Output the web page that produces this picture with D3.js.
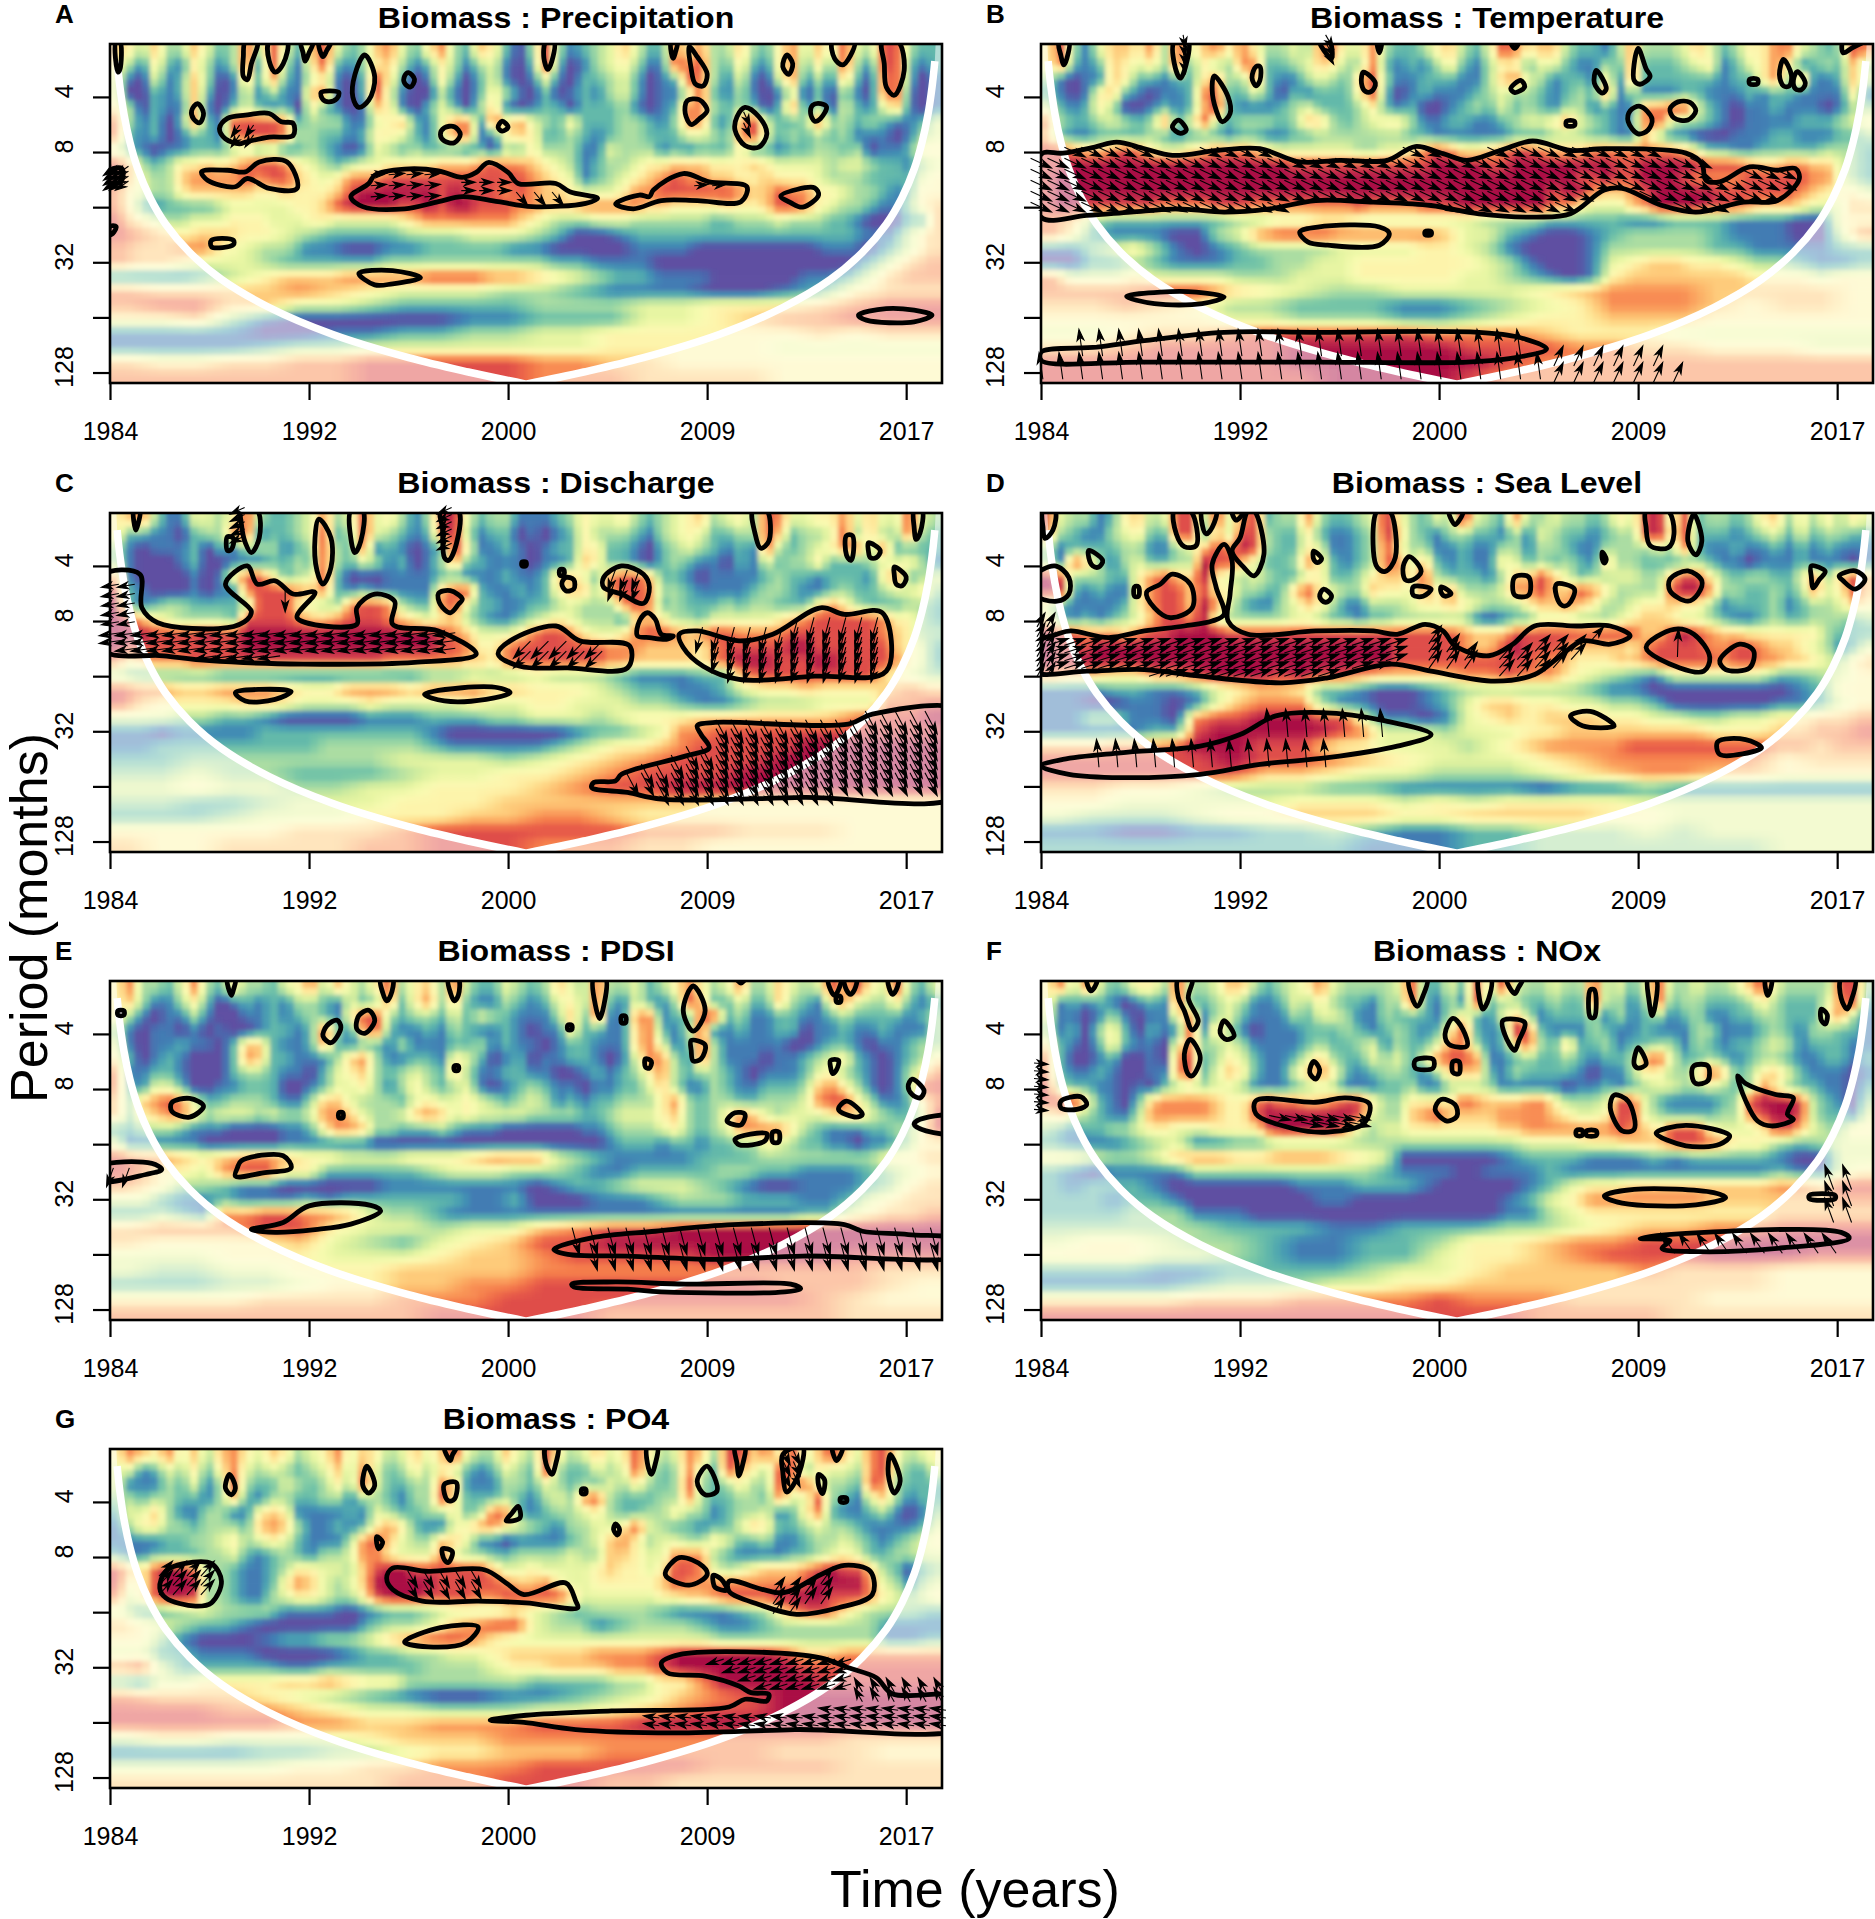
<!DOCTYPE html>
<html>
<head>
<meta charset="utf-8">
<script src="https://cdnjs.cloudflare.com/ajax/libs/d3/7.8.5/d3.min.js"></script>
<style>
body { margin: 0; background: #fff; }
text { font-family: "Liberation Sans", Arimo, Helvetica, sans-serif; fill: #000; }
</style>
</head>
<body>
<svg id="vis"></svg>
<script>
// x values are months since Jan 1984, y values are log2(period in months)
const xTicks = [0, 100, 200, 300, 400];
const xLabels = ["1984", "1992", "2000", "2009", "2017"];
const periodTicks = [4, 8, 16, 32, 64, 128];
const periodLabels = ["4", "8", "", "32", "", "128"];

// cone of influence: [months from the edge, log2 period]
const coi = [[3.6,1.35],[5,1.82],[7,2.31],[10,2.82],[14,3.31],[20,3.82],[28,4.31],[40,4.82],[56,5.31],[80,5.82],[112,6.31],[150,6.73],[180,6.99],[209,7.21]];

// coherence, 0 (purple) to 9 (dark red), one string per period band, top down
const heatA = [
"65363364 23838426 84236742 57326520 38312346 42275733 63257364 84388322",
"53152153 13818315 82135631 25313410 28201345 31187832 52157252 83188212",
"41041263 01627214 51028520 15202410 14102234 20128731 41047131 62078201",
"40021262 01413116 71028410 03102531 02012134 20114821 31014020 31078101",
"53021161 02421205 21016510 24203610 12202223 10127732 32027130 42146101",
"73120272 18888723 33114562 14771857 43252223 32137721 78422373 32321124",
"72120122 17888733 22125542 14771156 52232123 32224432 78423232 31110134",
"42101122 23423123 21014323 22212032 53331143 33121222 52212233 23011255",
"86323556 56788754 32344555 56667877 65431233 45566655 56544443 44322134",
"86433677 77878865 45777888 88888888 76541234 56787766 55655543 33222245",
"75433566 66655655 56899999 98988878 76654445 77888888 76687755 43321255",
"75212222 34444455 68999988 98998887 76667777 76655556 55688754 33211356",
"86543344 45554445 54444456 77777776 54333444 33333322 33343332 21000226",
"87656 65543 22223 33444 32001 22222 22222 21146",
"76677 54331 10011 22221 10000 11100 00001 10246",
"76654 44322 22233 33333 32211 10000 00000 02467",
"11112 34566 67777 88877 65432 21110 00011 24677",
"766 667 654 443 321 110 012 566",
"788 664 432 222 333 445 556 788",
"556 310 000 011 222 445 677 888",
"111 100 112 233 445 555 556 566",
"111 123 344 444 445 555 544 444",
"655 667 788 888 776 655 555 555",
"777 777 788 888 777 666 655 555"];
const heatB = [
"58314665 73846757 53343774 47322356 32487566 32213733 34642355 77432387",
"57212654 53825337 72234653 37212135 21355244 21132722 23451245 75123263",
"31011652 21225733 72113432 68311222 11367431 22151722 22221225 73711264",
"21015621 01127822 42021222 58201211 12343321 23271311 12211121 22111151",
"42125300 12126921 11234222 35212001 23242321 33121177 88421011 21110133",
"73223432 37248323 33236632 34553112 21123445 74321278 43321011 11222345",
"62112222 32122212 21122333 33332211 11112223 33221163 11000111 22111223",
"88766787 54456777 65444444 33445787 55678876 66777777 76422112 22223332",
"88999999 99999999 99988888 88888899 99889999 99998899 99988876 67766432",
"89999999 99999999 99999999 99999999 99999999 98898899 98777788 88877432",
"89999999 99999999 99999999 99999999 99999998 99766789 99998888 88765554",
"89988888 87777888 77777777 87777888 99999997 75444679 99988876 66544466",
"76322 22223 34455 44444 43332 22211 22211 10055",
"75211 10034 78887 77776 44210 01233 33211 10047",
"11345 31012 33334 44455 43100 01333 33221 11122",
"00223 21112 23344 55555 54310 01456 65543 32112",
"74445 44443 33444 55555 44321 01566 66665 55455",
"777 886 543 344 445 677 766 665",
"667 653 322 211 234 577 765 665",
"555 554 433 322 345 566 655 555",
"445 667 888 887 776 555 444 444",
"667 888 899 999 888 776 655 544",
"888 888 899 999 987 777 777 777",
"888 888 889 999 877 777 777 777"];
const heatC = [
"56731144 35832234 73484531 38942331 11235445 32345634 53874455 74644843",
"52211023 37812234 82384321 27931220 10125333 21345422 33862334 83633832",
"31011120 21333123 83271210 12951121 01225522 10234321 21832345 77372222",
"31000120 01112232 83243120 13722111 01126522 10232110 21423352 22344531",
"61000010 15885234 82000111 12211121 12664278 86221011 11232212 22157234",
"82100010 11788876 72121111 16882112 12566378 87332111 12332112 32234453",
"92123322 22388854 33788732 27842211 22343337 87232223 23322257 53222332",
"98654333 32888876 67888765 45632112 34543331 66533244 44456788 88875532",
"99988889 88999999 99999999 98764445 78875445 78876788 77778888 88876533",
"98888888 88999999 99999999 98875578 88888877 76666578 88889988 88886542",
"75677788 88888888 88888777 77766578 88888877 66666578 99988899 88887542",
"32222 11111 11111 22333 43332 11122 78888 88543",
"87766 77765 57776 77766 55543 22112 45565 55676",
"86555 56654 44544 44544 55444 33211 23334 44778",
"44433 22100 00111 22233 44434 55566 66666 78889",
"11011 11222 22222 10000 00122 34778 88888 88888",
"11222 22222 33333 21111 12345 56788 88899 99999",
"223 333 334 443 456 788 899 999",
"334 332 223 445 567 888 999 999",
"445 443 344 555 678 899 999 999",
"332 234 445 556 666 665 555 555",
"222 344 455 566 776 555 555 555",
"555 556 667 888 888 777 666 555",
"655 666 677 888 777 665 555 555"];
const heatD = [
"84331256 34883847 82337322 34953243 94327334 33235489 48233235 63535354",
"73211345 22882648 83225211 23963213 32213143 22123389 58222123 42423322",
"31222233 11346879 83225411 23853311 21133133 21133334 37211211 21212111",
"31863134 22339886 42237521 23874621 21154232 32163322 22321101 11211101",
"98333225 78669543 43224522 35665832 22136686 42334433 68853233 22473686",
"99212115 78868553 32268543 36554757 33347786 68753333 89973322 32374586",
"42111125 78869742 11346531 13334556 54333566 76533455 65531222 31233465",
"52121234 68879433 33344322 12233333 31012244 43334566 54432112 32233323",
"98877767 88999988 88888888 88888888 76668888 88888866 89876655 55553222",
"98889999 99999999 99999999 99988888 76689888 76666578 88877887 66543124",
"98999999 99999999 99999999 99988888 88888877 65556678 88887887 76654356",
"76655 77899 98988 76666 77877 54321 44444 22345",
"11122 11245 66522 10012 33333 32110 00000 01255",
"11001 10146 77731 10012 46655 44332 00000 11245",
"11331 10788 99988 41101 45656 66554 43344 55667",
"11111 22899 99998 74443 44455 66666 66555 66778",
"66677 78999 88865 54444 34567 77788 88888 77677",
"888 889 887 654 445 677 777 566",
"888 888 665 443 334 567 766 555",
"665 543 332 211 110 112 111 111",
"554 444 455 545 455 554 444 444",
"433 345 566 655 666 655 444 444",
"110 011 223 211 223 334 344 444",
"222 222 222 111 223 333 333 444"];
const heatE = [
"57332473 25332457 36435835 63832243 23643833 42357534 73364348 68548324",
"56311352 01212133 21423725 73621132 12453821 42138622 42263215 74335212",
"53101131 00112123 21588323 32424321 11362811 77122882 31122112 32222123",
"31011010 10012212 83178211 21321121 01152211 67213811 21122011 21121113",
"41011211 02662112 72122131 11223121 10122111 67412831 11110012 21011233",
"52012100 02762211 13673112 21542012 01122101 47731831 11011234 52101235",
"71122100 02332110 24563234 32631122 11001212 35732332 10111245 32101357",
"72144200 11222001 24453135 32341012 32110112 24631132 11222367 53101388",
"63678742 23332113 66433324 54454323 43121223 33573233 22333478 85311257",
"63567753 44434334 77643346 76454444 33332234 44563235 76434445 66432248",
"22333211 10000112 57763322 23211100 00001123 33453234 77775321 11223358",
"41111110 00000111 11110000 00000000 00000012 22122122 33543221 10112355",
"87765 67765 54445 55677 74321 11122 23333 33556",
"87554 78855 22222 34443 33211 22223 32211 12345",
"76533 21100 00011 11111 01223 44432 10011 12356",
"44211 21112 12222 22112 00011 12333 22211 24566",
"22321 77887 76433 21111 11111 11111 11122 45667",
"677 788 544 344 678 899 999 999",
"655 556 432 456 889 999 999 999",
"444 555 444 566 788 889 999 888",
"433 445 556 666 777 777 777 766",
"222 334 556 677 888 888 877 765",
"555 566 667 778 888 888 887 655",
"777 777 777 888 887 777 777 666"];
const heatF = [
"57374235 53833466 32345743 33348224 28384334 33834248 33433468 43333883",
"51212101 21822343 11243532 21338213 18233223 22833138 23322235 32224782",
"41101310 11571342 11132443 11322213 52146312 22313123 12311223 32225731",
"31203520 21181631 01112223 21232125 82129821 11321121 11331112 32133221",
"52102521 10573343 11112322 34132247 73125832 62231223 31321223 43122211",
"72001200 10782354 21124632 24342478 87112322 32122378 42232123 32112212",
"72112100 11782465 21146752 12332136 66213222 21011355 33586235 64211101",
"83221101 02343443 11123431 11223113 33311111 01121234 43343237 53221102",
"88952102 67777655 78776678 85335555 87666775 33348842 11112389 99832103",
"56432113 77777655 89999999 84336786 66677776 54458843 22223378 99832214",
"32122334 55444555 58999997 43445555 55566777 77778765 88854445 88643355",
"21112 34112 23333 33333 33344 45566 88755 32344",
"55433 46776 67776 54000 00122 21112 12222 10044",
"21011 11333 33333 32111 01112 11111 11111 21145",
"21222 10000 00111 22210 00012 45566 66666 77688",
"22212 21000 00011 00000 00124 57777 77666 66677",
"22223 33111 00000 00000 00113 45555 55555 66666",
"333 332 221 122 233 456 677 888",
"455 433 211 223 556 778 889 999",
"555 443 211 224 556 788 899 988",
"222 112 222 344 566 667 666 555",
"111 123 334 455 666 666 666 555",
"555 566 677 778 777 666 655 555",
"888 888 888 888 887 777 666 666"];
const heatG = [
"57657463 67546534 57465346 46843364 38534645 85347638 86758468 64785345",
"44124352 57434323 46374235 35421243 28322434 84237428 65388254 43784224",
"41113241 38322432 35384223 37611133 24323243 53238323 53386843 32873222",
"33233221 36213322 33133213 38522232 13437832 22337322 33274483 21463122",
"24463113 31156511 11214322 33523872 12334532 23353312 33412572 11231013",
"13553323 33267631 12125752 11457754 32133445 84322122 46522343 32111124",
"11112233 45345421 11378643 36641101 11123467 53443354 22311233 43212345",
"21122223 34212321 33477544 47433223 33343366 54477732 11112234 54223344",
"86589973 32112355 44368998 88888644 54444565 54588743 45666789 88632023",
"85589993 32112576 43469999 98888876 67544555 55687777 77777899 99743134",
"74589983 32113455 43358999 88887788 88864444 44556678 88899998 88754345",
"42234 33311 10122 34445 43233 32111 23688 53332",
"65432 21000 00233 46788 43312 33321 12333 33111",
"55310 00122 33467 88754 44444 44443 33333 33112",
"44221 11000 01223 34456 66677 78999 99866 77777",
"78422 22211 22222 33345 56667 78999 99988 88888",
"21445 55566 76553 33333 22223 35579 99998 88888",
"766 654 321 001 123 467 899 999",
"888 776 544 333 445 678 899 999",
"888 887 766 777 888 999 999 999",
"455 444 456 667 777 777 777 666",
"111 122 334 556 667 777 766 655",
"444 445 566 777 888 887 777 666",
"666 666 667 778 887 766 666 666"];

// significance contours, flat lists month,log2period,month,log2period...
const bandB = [0,3.04,11,3.02,27,2.91,38,2.82,52,2.94,66,3.06,89,2.97,110,2.94,130,3.18,150,3.15,174,3.15,188,2.9,202,3.03,214,3.15,231,2.97,247,2.8,266,2.97,283,2.94,324,3.02,332,3.21,334,3.51,341,3.54,356,3.27,370,3.33,379,3.3,381,3.48,370,3.88,353,3.91,329,4.09,312,3.97,292,3.66,283,3.69,266,4.12,249,4.18,220,4.12,196,3.97,167,3.91,138,3.88,115,4.03,92,4.09,69,4.03,45,4.09,23,4.15,0,4.18];
const contoursA = [
[3,1,5,1,5,1.5,4,1.55],[68,1,74,1,71,1.4,69,1.69,67,1.63,67,1.27],[80,1,89,1,87,1.4,83,1.55,80,1.35],[96,1,102,1,100,1.2,98,1.35,97,1.2],[105,1,111,1,109,1.15,107,1.27],
[128,1.24,133,1.64,130,2.06,125,2.19,122,2,123,1.6],[150,1.56,153,1.68,151,1.82,148,1.75,148,1.62],[106,1.92,115,1.92,114,2.03,110,2.09,107,2.05],[44,2.12,47,2.3,45,2.47,42,2.4,41,2.25],
[59,2.39,68,2.33,80,2.3,86,2.45,92,2.48,92,2.7,80,2.73,68,2.82,65,2.85,58,2.76,55,2.57],[168,2.56,173,2.54,176,2.68,173,2.83,168,2.8,166,2.68],[197,2.44,200,2.55,197,2.62,195,2.55],
[290,2.07,296,2.05,300,2.25,296,2.4,292,2.5,289,2.3],[319,2.19,326,2.36,330,2.67,326,2.91,319,2.88,314,2.6,315,2.36],[357,2.12,360,2.18,357,2.39,354,2.44,352,2.3,353,2.15],
[282,1,285,1,284,1.2,283,1.3,282,1.2],[291,1.09,295,1.27,300,1.58,298,1.8,294,1.76,292,1.49],[340,1.24,343,1.4,341,1.59,338,1.45],[363,1,374,1,372,1.25,368,1.42,364,1.3],
[388,1,396,1,399,1.52,394,1.97,390,1.82,389,1.4],[219,1,223,1,222,1.35,220,1.5,218,1.3],
[121,3.81,130,3.57,133,3.42,148,3.31,165,3.34,177,3.46,184,3.37,190,3.19,200,3.37,205,3.57,224,3.57,231,3.72,245,3.84,239,3.93,212,3.99,195,3.9,177,3.81,165,3.9,148,4.03,127,3.99],
[46,3.36,59,3.33,68,3.36,75,3.18,89,3.18,94,3.66,80,3.66,69,3.48,63,3.63,49,3.51],
[254,3.94,266,3.78,271,3.81,273,3.69,288,3.39,301,3.54,320,3.63,317,3.9,295,3.88,277,3.88,263,4.03],
[337,3.8,345,3.68,354,3.65,356,3.78,348,4,342,3.92],[0,3.33,6,3.3,6,3.5,0,3.6],[0,4.35,3,4.35,2,4.45,0,4.5],[51,4.6,62,4.6,62,4.68,51,4.72],
[125,5.2,142,5.15,156,5.28,142,5.39,133,5.41],[376,5.96,390,5.84,404,5.87,413,5.96,404,6.08,380,6.05]];
const contoursB = [bandB,
[9,1,14,1,13,1.3,11.5,1.42,10,1.25],[67,1,74,1,73,1.4,70,1.66,67,1.4],[140,1,145,1,146,1.3,142,1.15],[169,1,171,1,170,1.2],[236,1,240,1,238,1.12],[108,1.45,110,1.45,110,1.7,108,1.8,106,1.65],
[162,1.55,168,1.75,166,1.9,163,1.9,161,1.75],[87,1.62,94,2,95,2.3,91,2.45,88,2.24,86,1.88],[69,2.42,73,2.6,70,2.66,66,2.55],[241,1.7,243,1.82,238,1.92,236,1.85],[279,1.52,284,1.85,282,1.93,278,1.75],
[300,1.12,304,1.49,306,1.63,301,1.77,298,1.7,298,1.4],[356,1.68,360,1.68,360,1.76,356,1.76],[373,1.32,377,1.6,376,1.8,373,1.8,371,1.6],[380,1.54,384,1.75,382,1.87,379,1.85,378,1.7],[403,1,413,1,408,1.1,403,1.2],
[301,2.17,307,2.4,305,2.6,300,2.67,295,2.45,296,2.25],[320,2.09,326,2.1,329,2.25,325,2.42,318,2.38,316,2.22],[264,2.44,268,2.44,268,2.52,264,2.52],
[130,4.45,139,4.36,170,4.36,175,4.48,170,4.69,144,4.69,134,4.63],[193,4.44,196,4.44,196,4.5,193,4.5],[43,5.62,60,5.54,78,5.54,92,5.63,81,5.75,57,5.75],
[0,6.63,28,6.54,52,6.42,92,6.27,138,6.27,220,6.27,240,6.36,254,6.57,240,6.72,214,6.81,138,6.81,52,6.81,0,6.78]];
const contoursC = [
[12,1,15,1,14,1.25,13,1.35,12,1.2],[66,1,74,1,75,1.49,71,1.76,68,1.58,66,1.24],[59,1.47,62,1.5,61,1.7,59,1.72],[105,1.15,111,1.49,111,2.03,107,2.33,104,2.09,103,1.49],[121,1,127,1,126,1.55,123,1.76,121,1.5],
[166,1,175,1,174,1.6,170,1.9,168,1.85,167,1.3],[323,1,330,1,331,1.55,327,1.68,324,1.4],[404,1,408,1,407,1.4,405,1.52,404,1.3],[370,1.45,373,1.45,373,1.85,372,1.9,370,1.8],[381,1.58,387,1.72,385,1.85,382,1.85,381,1.72],
[394,2.02,400,2.2,398,2.36,395,2.33,394,2.15],[207,1.93,209,1.93,209,2,207,2],[226,2.07,228,2.07,228,2.17,226,2.17],[229,2.21,233,2.25,233,2.42,229,2.45,227,2.32],[248,2.21,257,2,268,2.15,271,2.39,268,2.68,257,2.51,248,2.39],[171,2.45,177,2.6,175,2.7,171,2.85,166,2.7,165,2.5],
[-4,2.18,15,2.15,16,2.76,24,3.03,59,3.12,69,2.97,71,2.82,58,2.33,69,2,74,2.33,83,2.27,92,2.51,103,2.48,94,2.94,124,3.06,124,2.76,133,2.51,143,2.64,142,3.06,165,3.18,184,3.6,153,3.75,97,3.78,50,3.72,27,3.63,-4,3.51],
[195,3.6,201,3.36,224,3.09,236,3.36,261,3.45,260,3.85,230,3.85,206,3.82],[270,2.85,274,2.97,277,3.24,283,3.27,280,3.33,271,3.3,265,3.27,266,3],
[286,3.24,295,3.18,316,3.36,333,3.24,357,2.76,369,2.88,388,2.85,390,3.91,354,4,316,4.06,298,3.82,288,3.48],
[63,4.3,75,4.24,91,4.28,83,4.42,68,4.45],[158,4.33,177,4.21,195,4.21,201,4.3,189,4.42,168,4.45],
[295,4.9,304,4.84,371,4.87,383,4.69,430,4.66,430,6.11,348,6.2,277,6.23,260,6.11,242,6.02,243,5.93,254,5.9,257,5.78,289,5.45,301,5.3,297,5.06]];
const contoursD = [
[1,1,7,1,6,1.35,2,1.5,1,1.3],[67,1,75,1,78,1.63,72,1.65,68,1.42],[81,1,88,1,86,1.3,83,1.42,81,1.25],[96,1,102,1,100,1.12,98,1.17],[104,1,107,1,112,1.79,107,2.18,102,2.03,96,1.73,100,1.49],
[24,1.72,31,1.9,29,2.02,26,2,24,1.85],[169,1,175,1,178,1.85,173,2.1,169,2.03,167,1.73],[185,1.83,191,2.1,187,2.25,183,2.25,182,2],[205,1,212,1,210,1.18,208,1.25],[137,1.73,141,1.87,139,1.94,137,1.88],[282,1.75,284,1.88,283,1.95,282,1.88],
[304,1,315,1,318,1.42,315,1.67,306,1.63,304,1.3],[328,1.06,332,1.55,329,1.8,325,1.55],[-4,2.21,7,2,14,2.21,14,2.51,8,2.64,-4,2.51],[66,2.15,75,2.33,76,2.76,65,2.94,57,2.76,53,2.48,60,2.33],[47,2.38,49,2.38,49,2.55,47,2.55],
[142,2.42,146,2.55,144,2.65,142,2.65,140,2.55],[187,2.38,196,2.42,192,2.55,187,2.53],[201,2.38,206,2.5,203,2.55,201,2.48],[238,2.2,245,2.2,245,2.53,238,2.53],[259,2.33,268,2.42,265,2.7,262,2.72,259,2.55],[325,2.09,332,2.27,330,2.51,325,2.64,316,2.45,316,2.24],
[387,2,394,2.1,391,2.25,388,2.4,387,2.2],[401,2.18,409,2.09,414,2.24,409,2.42,403,2.27],
[-4,3.42,8,3.24,15,3.18,34,3.3,52,3.18,72,3.09,86,3,92,2.88,88,2.39,86,1.97,92,1.61,96,1.91,95,2.51,94,3,104,3.24,138,3.18,167,3.18,179,3.24,193,3.06,202,3.18,208,3.45,225,3.63,237,3.42,248,3.09,269,3.09,286,3.09,296,3.27,286,3.42,272,3.36,260,3.66,248,3.97,228,4.09,196,3.91,176,3.78,144,4.03,121,4.12,80,4,52,3.88,23,3.91,-4,3.91],
[318,3.15,328,3.24,336,3.66,333,3.91,321,3.85,304,3.48],[351,3.42,358,3.54,356,3.85,344,3.88,341,3.72],
[0,5.63,11,5.51,40,5.39,80,5.27,100,5.06,118,4.72,141,4.66,173,4.81,196,5.06,179,5.27,144,5.48,110,5.6,80,5.78,40,5.84,14,5.78],
[266,4.72,276,4.64,288,4.9,272,4.9],[340,5.19,354,5.15,362,5.3,341,5.42]];
const contoursE = [
[4,1.58,7,1.58,7,1.66,4,1.66],[59,1,63,1,62,1.2,61,1.3],[136,1,142,1,141,1.3,139,1.4,137,1.25],[170,1,175,1,175,1.3,173,1.4,171,1.25],[243,1,249,1,248,1.5,246,1.72,244,1.5],[293,1.13,299,1.58,293,1.95,288,1.58],[257,1.68,259,1.68,259,1.8,257,1.8],[230,1.84,232,1.84,232,1.92,230,1.92],[315,1,319,1,317,1.08],
[361,1,367,1,366,1.2,364,1.3,362,1.2],[369,1,375,1,374,1.2,372,1.28,370,1.2],[391,1,396,1,395,1.2,393,1.28],[365,1.32,367,1.32,367,1.42,365,1.42],[130,1.57,133,1.76,128,1.99,124,1.91,125,1.67],[114,1.75,116,1.88,111,2.16,107,2.04,109,1.85],[292,2.12,299,2.2,297,2.45,293,2.49,292,2.3],
[269,2.45,272,2.5,271,2.62,269,2.6],[173,2.58,175,2.58,175,2.66,173,2.66],[362,2.48,366,2.48,365,2.65,363,2.72,362,2.6],[403,2.82,409,3.03,407,3.16,403,3.1,401,2.95],[31,3.25,40,3.17,47,3.31,40,3.51,31,3.4],[115,3.43,117,3.43,117,3.52,115,3.52],[370,3.22,378,3.46,375,3.51,366,3.37],
[314,3.43,319,3.46,317,3.65,310,3.58],[314,3.91,330,3.81,329,3.94,316,4.01],[333,3.78,336,3.78,336,3.96,333,3.96],[430,3.5,407,3.55,404,3.64,410,3.76,430,3.79],[-5,4.41,21,4.35,26,4.46,18,4.55,-5,4.66],[66,4.3,87,4.21,91,4.43,77,4.52,63,4.58,64,4.43],[71,5.55,87,5.42,100,5.12,131,5.11,136,5.21,121,5.45,103,5.55,83,5.6],
[223,5.91,242,5.7,274,5.58,313,5.46,369,5.46,378,5.58,401,5.64,430,5.76,430,6,348,6.03,304,6.09,260,6.03,230,6],[232,6.54,254,6.5,289,6.54,342,6.54,347,6.62,339,6.68,277,6.68,260,6.63,233,6.59]];
const contoursF = [
[23,1,28,1,27,1.15,25,1.22],[69,1,76,1,74,1.35,79,1.77,76,1.93,72,1.58,69,1.34],[75,2.1,80,2.43,76,2.76,74,2.73,72,2.37],[92,1.76,97,2.04,93,2.1,90,1.98],[137,2.5,140,2.65,138,2.82,135,2.7],[185,1,194,1,192,1.3,189,1.5,186,1.3],[220,1,226,1,225,1.35,222,1.55,220,1.3],[234,1,242,1,240,1.15,238,1.27],
[207,1.72,212,1.92,214,2.22,205,2.19,203,2],[232,1.76,243,1.79,240,2.13,238,2.3,233,2.01],[188,2.48,197,2.46,197,2.62,188,2.62],[207,2.5,210,2.5,210,2.72,207,2.7],[276,1.2,278,1.2,278,1.7,276,1.7],[305,1,309,1,308.5,1.5,307,1.67,305.5,1.4],[364,1,367,1,366,1.25,365,1.3],[402,1,409,1,407,1.4,405,1.55,402,1.35],[392,1.55,395,1.65,394,1.82,392,1.75],
[300,2.25,304,2.55,300,2.62,298,2.55],[328,2.58,335,2.58,335,2.85,329,2.9,327,2.75],[350,2.76,354,2.9,369,3.1,378,3.16,375,3.46,378,3.55,367,3.67,360,3.58,354,3.21],[288,3.11,295,3.22,298,3.73,292,3.76,286,3.34],[201,3.19,208,3.28,209,3.49,204,3.58,198,3.37],[10,3.22,20,3.14,23,3.28,18,3.37,10,3.34],
[108,3.21,138,3.24,153,3.16,165,3.27,162,3.63,144,3.78,127,3.72,108,3.45],[269,3.75,272,3.75,272,3.84,269,3.84],[274,3.76,279,3.76,279,3.84,274,3.84],[309,3.8,324,3.66,346,3.85,341,4,324,4.03],[283,4.94,298,4.82,338,4.88,344,4.97,329,5.1,292,5.07],[386,4.93,399,4.93,399,4.99,386,4.99],[301,5.71,324,5.62,402,5.6,406,5.71,370,5.89,330,5.95,312,5.89,316,5.75]];
const contoursG = [
[60,1.5,63,1.75,61,1.87,58,1.75],[129,1.35,133,1.7,130,1.84,127,1.7],[168,1,174,1,172,1.15,171,1.25],[168,1.68,174,1.65,173,1.95,170,1.98,168,1.85],[219,1,225,1,224,1.3,222,1.5,219,1.3],[270,1,275,1,274,1.3,272,1.5,270,1.3],[314,1,319,1,318,1.3,316,1.53,315,1.3],[338,1.14,348,1,346,1.5,340,1.82,338,1.45],[300,1.35,305,1.8,299,1.87,295,1.63],
[356,1.5,359,1.6,358,1.85,356,1.7],[363,1,368,1,367,1.15,365,1.25],[392,1.14,397,1.62,394,1.84,391,1.5],[237,1.77,239,1.77,239,1.85,237,1.85],[367,1.93,370,1.93,370,2,367,2],[205,2.08,206,2.29,199,2.34,202,2.2],[254,2.4,256,2.5,255,2.6,253,2.5],[134,2.63,137,2.73,135,2.85,134,2.75],[167,2.85,172,2.9,170,3.1,168,3.05],
[37,3.12,51,3.12,56,3.44,51,3.83,43,3.89,28,3.74,25,3.56,28,3.26],[142,3.2,160,3.26,188,3.23,199,3.47,208,3.68,229,3.47,234,3.8,235,3.92,209,3.83,185,3.8,157,3.8,142,3.59,139,3.38],[148,4.54,166,4.28,185,4.27,179,4.55,160,4.63],[286,3.01,298,3.17,300,3.32,291,3.51,279,3.32],[303,3.33,307,3.4,310,3.6,304,3.55,303,3.45],[311,3.44,338,3.65,357,3.32,369,3.15,382,3.26,383,3.68,366,3.92,345,4.04,326,3.86,311,3.62],
[277,4.92,286,4.77,320,4.72,357,4.83,371,5.01,385,5.19,393,5.48,430,5.55,430,6.07,344,6.13,283,6.19,234,6.13,208,6,191,5.96,209,5.87,252,5.79,311,5.72,319,5.58,330,5.61,331,5.49,322,5.46,316,5.34,299,5.16,280,5.1]];

// phase arrows: [region, angle in degrees, month step, log2 step, length]
const arrowsA = [
[[130,3.4,170,3.4,165,3.85,130,3.95],5,9,.2,16],[[180,3.55,205,3.55,205,3.75,180,3.75],0,9,.15,14],[[205,3.7,232,3.7,232,3.95,205,3.95],-50,9,.15,18],
[[60,2.5,75,2.5,75,2.85,60,2.85],235,7,.18,15],[[295,3.6,315,3.6,315,3.75,295,3.75],5,9,.2,14],[[319,2.4,326,2.4,326,2.8,319,2.8],-65,8,.2,16],
[[0,3.3,7,3.3,7,3.65,0,3.65],215,3,.09,16],[[388,5.7,392,5.7,392,6.2,388,6.2],270,8,.32,26]];
const arrowsB = [
[bandB,-25,8.5,.2,23],
[[0,6.5,50,6.35,90,6.15,220,6.15,258,6.6,258,7.2,0,7.2],98,10,.42,27],
[[255,6.45,312,6.45,326,7,312,7.15,255,7.15],65,10,.3,22],
[[68,1,74,1,74,1.6,68,1.6],-80,6,.15,14],[[141,1,146,1,146,1.3,141,1.3],-60,5,.14,16]];
const arrowsC = [
[[0,3.2,60,3.12,170,3.15,176,3.6,50,3.68,0,3.5],188,8,.14,22],[[0,2.3,10,2.3,10,3.1,0,3.1],190,8,.17,18],
[[205,3.4,250,3.4,250,3.8,205,3.8],225,9,.18,24],[[295,3.3,388,3,388,3.9,315,4,298,3.8],255,8,.18,26],
[[255,5.9,290,5.5,302,5.3,300,4.95,371,4.95,383,4.72,418,4.72,418,6.1,277,6.15],-62,7.5,.16,26],
[[60,1,72,1,72,1.6,60,1.6],205,8,.13,16],[[165,1,172,1,172,1.7,165,1.7],205,8,.13,16],[[252,2.1,265,2.1,265,2.6,252,2.6],250,6,.18,22],[[87,2.4,92,2.4,92,3,87,3],270,8,.4,26]];
const arrowsD = [
[[8,3.3,120,3.25,185,3.3,180,3.75,130,4.05,60,3.95,20,3.9,8,3.8],18,8.5,.14,22],[[190,3.2,210,3.3,225,3.7,190,3.75],55,9,.15,22],[[228,3.55,288,3.15,280,3.38,250,3.9,228,3.95],48,9,.15,22],
[[4,5.45,100,5.2,118,4.75,141,4.72,175,4.85,190,5.1,145,5.45,100,5.65,4,5.75],95,9.5,.55,28],[[0,2.9,8,2.9,8,3.9,0,3.9],60,5,.18,16],[[318,3.3,321,3.3,321,3.5,318,3.5],88,8,.3,28]];
const arrowsE = [
[[230,5.75,300,5.55,418,5.5,418,6.3,300,6.3,230,6],-75,9,.28,28],[[0,4.45,15,4.45,15,4.7,0,4.7],250,8,.3,20]];
const arrowsF = [
[[115,3.42,165,3.42,165,3.72,125,3.62],-12,8,.12,22],[[312,5.6,404,5.55,404,5.88,312,5.9],125,9,.3,24],[[394,4.6,412,4.6,412,5.3,394,5.3],110,9,.3,26],[[0,2.5,6,2.5,6,3.4,0,3.4],-5,8,.14,14],[[204,2,210,2,210,2.2,204,2.2],5,8,.3,16]];
const arrowsG = [
[[28,3.2,50,3.2,50,3.7,28,3.7],48,7,.17,20],[[145,3.28,190,3.28,190,3.75,145,3.7],-60,8,.2,20],[[330,3.55,365,3.25,360,3.85,330,3.95],55,8,.18,20],
[[295,4.85,368,4.85,372,5.35,330,5.45],197,8,.15,18],[[270,5.85,418,5.7,418,6.1,270,6.12],172,8,.14,16],[[375,5.15,418,5.15,418,5.65,375,5.55],120,8,.18,16],[[340,1.1,346,1.1,346,1.7,340,1.7],-65,5,.2,16]];

const panels = [
  {letter: "A", title: "Biomass : Precipitation", heat: heatA, contours: contoursA, arrows: arrowsA},
  {letter: "B", title: "Biomass : Temperature", heat: heatB, contours: contoursB, arrows: arrowsB},
  {letter: "C", title: "Biomass : Discharge", heat: heatC, contours: contoursC, arrows: arrowsC},
  {letter: "D", title: "Biomass : Sea Level", heat: heatD, contours: contoursD, arrows: arrowsD},
  {letter: "E", title: "Biomass : PDSI", heat: heatE, contours: contoursE, arrows: arrowsE},
  {letter: "F", title: "Biomass : NOx", heat: heatF, contours: contoursF, arrows: arrowsF},
  {letter: "G", title: "Biomass : PO4", heat: heatG, contours: contoursG, arrows: arrowsG}
];

const WIDTH = 1875;
const HEIGHT = 1919;
const colX = [110, 1041];
const rowY = [44, 513, 981, 1449];
const PW = 832;
const PH = 339;
const MAX_MONTH = 418;
const TOP_L = 1.04;
const BOTTOM_L = 7.19;

const SVG = d3.select("#vis").attr("width", WIDTH).attr("height", HEIGHT);
const defs = SVG.append("defs");
defs.append("filter").attr("id", "soft")
  .attr("filterUnits", "userSpaceOnUse")
  .attr("x", -40).attr("y", -40).attr("width", PW + 80).attr("height", PH + 80)
  .append("feGaussianBlur").attr("stdDeviation", 2.2);
defs.append("clipPath").attr("id", "plotClip")
  .append("rect").attr("width", PW).attr("height", PH);

const x = d3.scaleLinear().domain([0, MAX_MONTH]).range([0, PW]);
const y = d3.scaleLinear().domain([TOP_L, BOTTOM_L]).range([0, PH]);
const color = d3.scaleSequential((t) => d3.interpolateSpectral(1 - t)).domain([0.3, 9.2]).clamp(true);

const chunk = (flat) => d3.range(0, flat.length, 2).map((i) => [flat[i], flat[i + 1]]);
const toPx = (pts) => pts.map((p) => [x(p[0]), y(p[1])]);
const contourLine = d3.line().curve(d3.curveCatmullRomClosed.alpha(0.5));

const CELLS_X = 104;
const CELLS_Y = 48;

function heatSampler(rows) {
  const parsed = rows.map((s) => Array.from(s.replace(/ /g, ""), Number));
  const samplers = parsed.map((vals) => {
    const f = d3.piecewise(d3.interpolateNumber, vals);
    return (t) => f(Math.max(0, Math.min(1, (t * vals.length - 0.5) / (vals.length - 1))));
  });
  return (fx, fy) => {
    const pos = Math.max(0, Math.min(samplers.length - 1, fy * samplers.length - 0.5));
    const r0 = Math.floor(pos);
    const r1 = Math.min(samplers.length - 1, r0 + 1);
    return d3.interpolateNumber(samplers[r0](fx), samplers[r1](fx))(pos - r0);
  };
}

panels.forEach((p, i) => {
  const g = SVG.append("g").attr("transform", `translate(${colX[i % 2]}, ${rowY[Math.floor(i / 2)]})`);
  const plot = g.append("g").attr("clip-path", "url(#plotClip)");

  // coherence field
  const sample = heatSampler(p.heat);
  const cells = [];
  d3.range(-3, CELLS_Y + 3).forEach((r) => {
    d3.range(-3, CELLS_X + 3).forEach((c) => {
      cells.push({c, r, v: sample((c + 0.5) / CELLS_X, (r + 0.5) / CELLS_Y)});
    });
  });
  const dm = MAX_MONTH / CELLS_X;
  const dl = (BOTTOM_L - TOP_L) / CELLS_Y;
  plot.append("g").attr("filter", "url(#soft)").selectAll("rect")
    .data(cells).enter().append("rect")
    .attr("x", (d) => x(d.c * dm))
    .attr("y", (d) => y(TOP_L + d.r * dl))
    .attr("width", x(dm) + 0.6)
    .attr("height", y(TOP_L + dl) + 0.6)
    .attr("fill", (d) => color(d.v));

  // pale wash outside the cone of influence
  const left = coi.map((d) => [d[0], d[1]]);
  const right = coi.slice().reverse().map((d) => [MAX_MONTH - d[0], d[1]]);
  const coiPts = [[3.2, TOP_L]].concat(left, right, [[MAX_MONTH - 3.2, TOP_L]]);
  const outer = [[0, TOP_L], [0, BOTTOM_L + 1], [MAX_MONTH, BOTTOM_L + 1], [MAX_MONTH, TOP_L]];
  plot.append("path")
    .attr("d", d3.line()(toPx(outer)) + "Z" + d3.line()(toPx(coiPts)) + "Z")
    .attr("fill", "#fff").attr("fill-opacity", 0.5).attr("fill-rule", "evenodd");

  // cone of influence line
  plot.append("path")
    .attr("d", d3.line().curve(d3.curveCatmullRom)(toPx(left.concat(right))))
    .attr("fill", "none").attr("stroke", "#fff").attr("stroke-width", 7.5);

  // significance contours
  plot.selectAll("path.sig").data(p.contours).enter().append("path").attr("class", "sig")
    .attr("d", (d) => contourLine(toPx(chunk(d))))
    .attr("fill", "none").attr("stroke", "#000").attr("stroke-width", 4.8).attr("stroke-linejoin", "round");

  // phase arrows, on a regular grid inside each region
  const arrowData = [];
  p.arrows.forEach((a) => {
    const poly = chunk(a[0]);
    d3.range(0, MAX_MONTH, a[2]).forEach((m) => {
      d3.range(1, BOTTOM_L + 0.2, a[3]).forEach((l) => {
        if (d3.polygonContains(poly, [m, l])) arrowData.push({m, l, angle: a[1], len: a[4]});
      });
    });
  });
  g.selectAll("path.arrow").data(arrowData).enter().append("path").attr("class", "arrow")
    .attr("transform", (d) => `translate(${x(d.m)},${y(d.l)}) rotate(${-d.angle})`)
    .attr("d", (d) => {
      const h = d.len / 2;
      return `M${-h},0L${h},0M${h},0L${h - 11},-3.4L${h - 8},0L${h - 11},3.4Z`;
    })
    .attr("fill", "#000").attr("stroke", "#000").attr("stroke-width", 1.1);

  // box
  g.append("rect").attr("width", PW).attr("height", PH)
    .attr("fill", "none").attr("stroke", "#000").attr("stroke-width", 2.6);

  // axes
  const xAxis = g.append("g").attr("transform", `translate(0, ${PH})`)
    .call(d3.axisBottom(x).tickValues(xTicks).tickSize(17).tickPadding(22).tickFormat((d, k) => xLabels[k]));
  xAxis.select(".domain").remove();
  xAxis.selectAll("line").attr("stroke", "#000").attr("stroke-width", 2.2);
  xAxis.selectAll("text").attr("font-size", 25).attr("font-family", '"Liberation Sans"');

  const yAxis = g.append("g")
    .call(d3.axisLeft(y).tickValues(periodTicks.map((d) => Math.log2(d))).tickSize(17).tickFormat((d, k) => periodLabels[k]));
  yAxis.select(".domain").remove();
  yAxis.selectAll("line").attr("stroke", "#000").attr("stroke-width", 2.2);
  yAxis.selectAll("text")
    .attr("transform", "rotate(-90)")
    .attr("x", 6).attr("y", -37).attr("dy", 0)
    .attr("text-anchor", "middle")
    .attr("font-size", 25).attr("font-family", '"Liberation Sans"');

  // titles, the reference type runs a little wide; top row kept inside the page
  const titleY = i < 2 ? -16 : -20;
  g.append("text").attr("transform", `translate(${PW / 2 + 30}, ${titleY}) scale(1.07, 1)`).attr("text-anchor", "middle")
    .attr("font-size", 30).attr("font-weight", "bold").text(p.title);
  g.append("text").attr("x", -55).attr("y", -21)
    .attr("font-size", 26).attr("font-weight", "bold").text(p.letter);
});

SVG.append("text").attr("transform", "translate(47, 918) rotate(-90)").attr("text-anchor", "middle")
  .attr("font-size", 52).text("Period (months)");
SVG.append("text").attr("x", 975).attr("y", 1907).attr("text-anchor", "middle")
  .attr("font-size", 52).text("Time (years)");
</script>
</body>
</html>
